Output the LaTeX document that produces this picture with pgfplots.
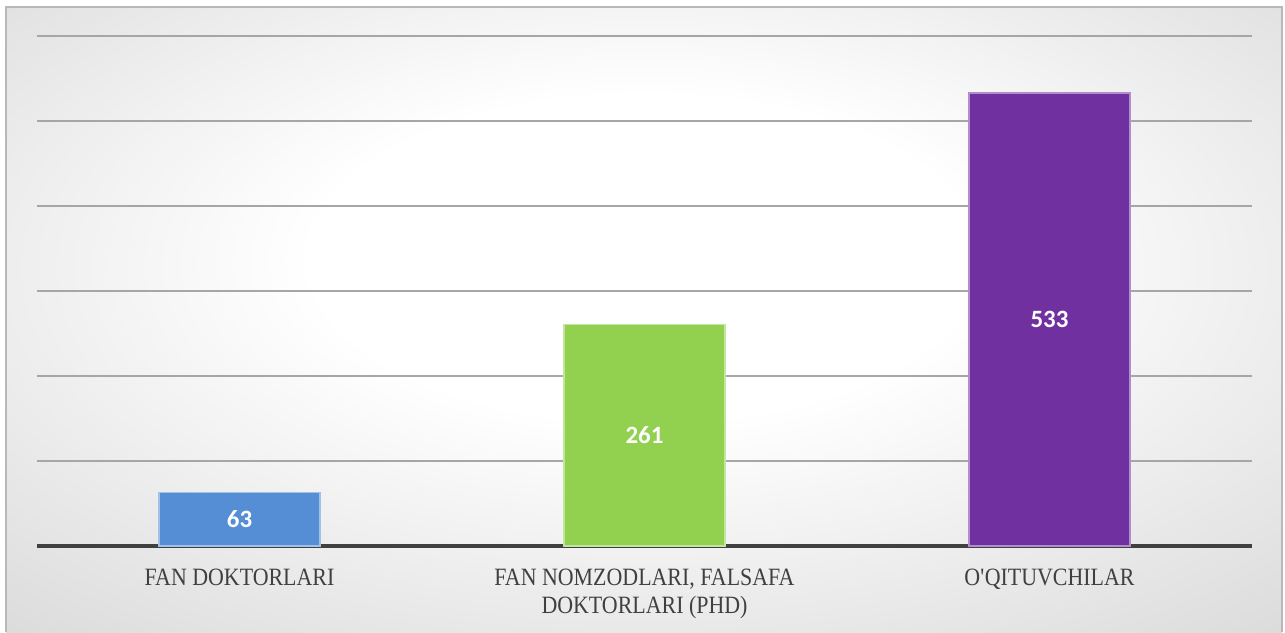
\documentclass[border=0pt]{standalone}
\usepackage{pgfplots}
\pgfplotsset{compat=1.18}
\usepackage{fontspec}
\setmainfont{Liberation Serif}[FakeStretch=0.88]
\newfontfamily\carlito{Carlito}

\definecolor{barblue}{HTML}{558ED5}
\definecolor{bargreen}{HTML}{92D050}
\definecolor{barpurple}{HTML}{7030A0}
\definecolor{labelgray}{HTML}{404040}

% soft white glow in the middle, gray towards the corners
\pgfdeclareradialshading{bgglow}{\pgfpoint{0bp}{6bp}}{%
  color(0bp)=(white); color(13bp)=(white);
  color(50bp)=(black!21); color(72bp)=(black!26)}

\begin{document}
\begin{tikzpicture}[x=1bp,y=1bp]
  \fill[white] (0,0) rectangle (642.5,316);
  \shade[shading=bgglow] (3,0) rectangle (641,312.5);
  \draw[black!28, line width=0.6bp] (3,0) -- (3,312.5) -- (641,312.5) -- (641,0);

  \begin{axis}[
      at={(18.5bp,43bp)}, anchor=south west,
      scale only axis, width=607.5bp, height=255bp,
      xmin=-0.5, xmax=2.5, ymin=0, ymax=600,
      axis x line*=bottom, axis y line*=left,
      y axis line style={draw=none},
      x axis line style={draw=black!75, line width=1.6bp},
      ytick={0,100,...,600}, yticklabels={}, ytick style={draw=none},
      xtick={0,1,2}, xtick style={draw=none},
      xticklabels={FAN DOKTORLARI, {FAN NOMZODLARI, FALSAFA\\DOKTORLARI (PHD)}, O\textquotesingle QITUVCHILAR},
      x tick label style={align=center, anchor=north, yshift=-8bp,
        font=\fontsize{12.5}{14}\selectfont, text=labelgray},
      ymajorgrids, grid style={black!35, line width=0.6bp},
      clip=false,
    ]
    \addplot[ybar, bar width=80.5bp, bar shift=0pt, fill=barblue,
      draw=white!45!barblue, line width=0.6bp] coordinates {(0,63)};
    \addplot[ybar, bar width=80.5bp, bar shift=0pt, fill=bargreen,
      draw=white!45!bargreen, line width=0.6bp] coordinates {(1,261)};
    \addplot[ybar, bar width=80.5bp, bar shift=0pt, fill=barpurple,
      draw=white!45!barpurple, line width=0.6bp] coordinates {(2,533)};
    % value labels sit at half the bar height
    \addplot[draw=none, mark=none, nodes near coords,
      point meta=explicit symbolic,
      every node near coord/.style={anchor=center, text=white,
        font=\carlito\bfseries\fontsize{12.5}{14}\selectfont}]
      coordinates {(0,31.5)[63] (1,130.5)[261] (2,266.5)[533]};
  \end{axis}
\end{tikzpicture}
\end{document}
